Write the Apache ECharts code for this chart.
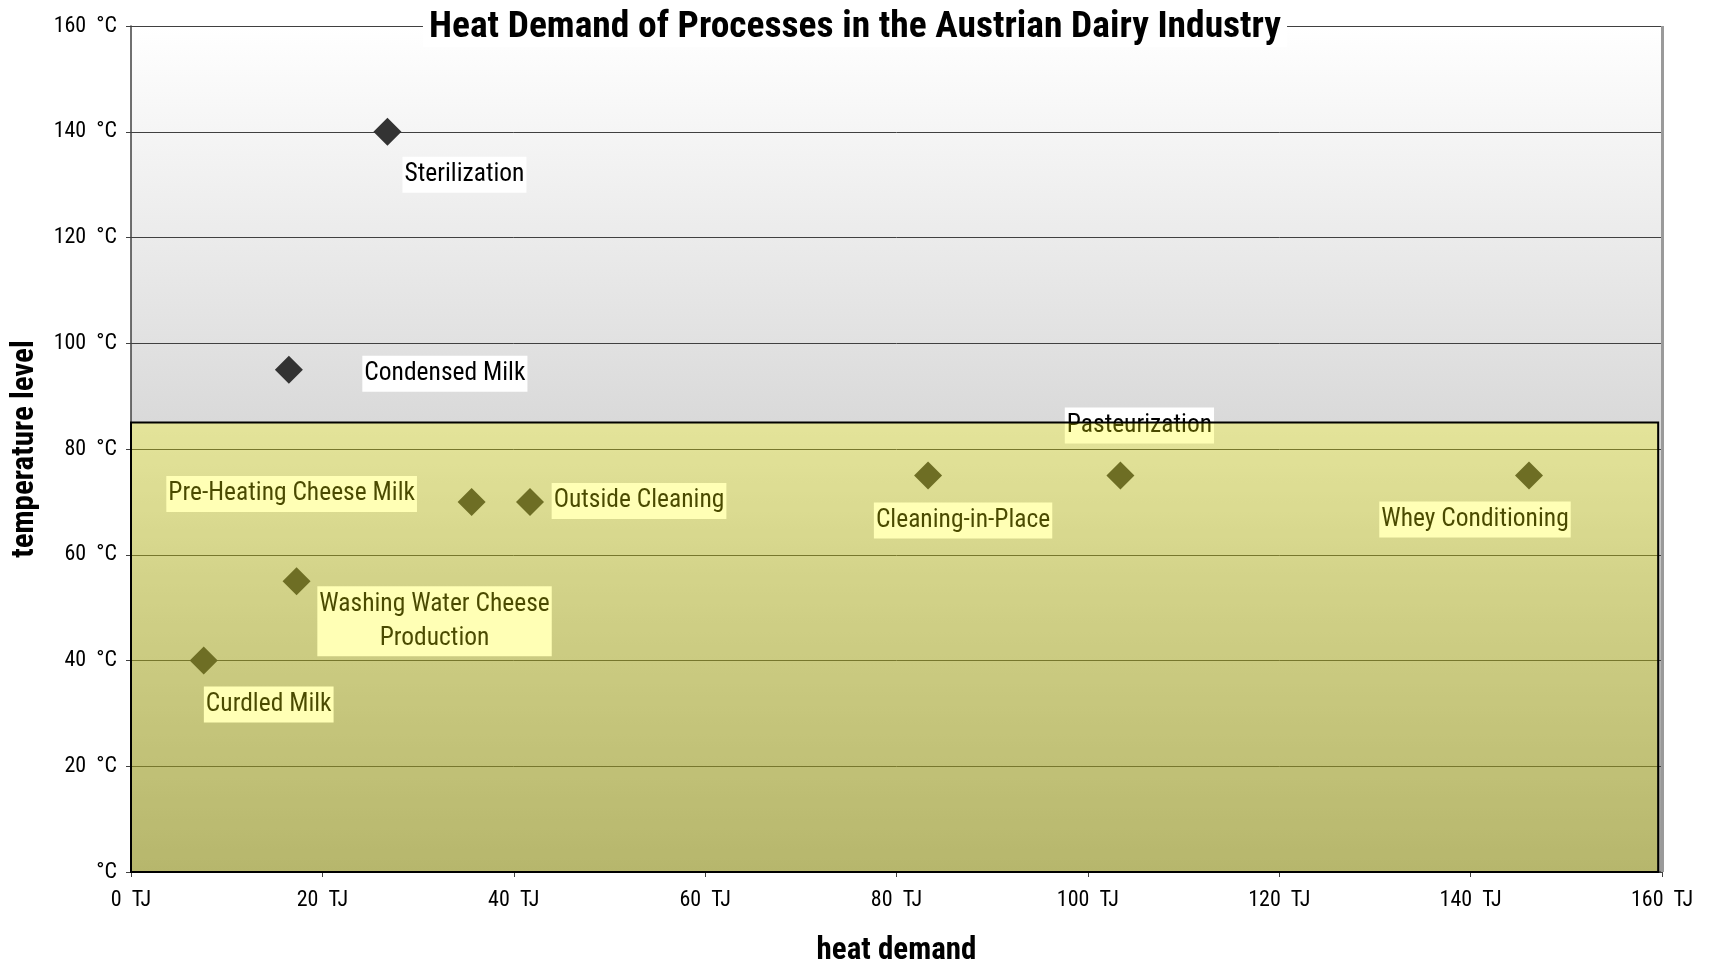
<!DOCTYPE html>
<html>
<head>
<meta charset="utf-8">
<script src="https://cdn.jsdelivr.net/npm/echarts@6/dist/echarts.min.js"></script>
<style>
html,body{margin:0;padding:0;background:#fff;}
#chart{width:1710px;height:962px;}
</style>
</head>
<body>
<div id="chart"></div>
<script>
// ---- data ----
const processNames = [
  'Sterilization',
  'Condensed Milk',
  'Pre-Heating Cheese Milk',
  'Outside Cleaning',
  'Washing Water Cheese\nProduction',
  'Curdled Milk',
  'Cleaning-in-Place',
  'Pasteurization',
  'Whey Conditioning'
];
const heatDemandTJ = [26.8, 16.5, 35.6, 41.7, 17.3, 7.6, 83.3, 103.4, 146.1];
const temperatureC = [140, 95, 70, 70, 55, 40, 75, 75, 75];
const xTicks = [0, 20, 40, 60, 80, 100, 120, 140, 160];
const yTicks = [0, 20, 40, 60, 80, 100, 120, 140, 160];
// low-temperature band
const bandMaxTJ = 159.6;
const bandMaxC = 85;

// label placement (styling only): offset of label centre from the point, px
const labelOffsets = [
  [77, 43], [156, 4], [-180, -8], [109, -1], [138, 40],
  [65, 44], [35, 45], [19, -50], [-54, 44]
];

const FONT = "'Liberation Sans Narrow', 'Arial Narrow', 'Roboto Condensed', 'Liberation Sans', sans-serif";

const points = processNames.map((n, i) => ({
  name: n,
  value: [heatDemandTJ[i], temperatureC[i]]
}));

const chart = echarts.init(document.getElementById('chart'));
chart.setOption({
  animation: false,
  title: {
    text: 'Heat Demand of Processes in the Austrian Dairy Industry',
    left: 'center',
    top: 9,
    padding: [0, 6],
    backgroundColor: '#ffffff',
    textStyle: { fontFamily: FONT, fontSize: 37.5, fontWeight: 'bold', color: '#000' }
  },
  grid: {
    left: 131, right: 48, top: 26, bottom: 90,
    outerBoundsMode: 'none',
    containLabel: false,
    show: true,
    borderWidth: 0,
    backgroundColor: {
      type: 'linear', x: 0, y: 0, x2: 0, y2: 1,
      colorStops: [
        { offset: 0, color: '#ffffff' },
        { offset: 0.375, color: '#e1e1e1' },
        { offset: 0.47, color: '#d9d9d9' },
        { offset: 0.69, color: '#bdbdbd' },
        { offset: 1, color: '#999999' }
      ]
    }
  },
  xAxis: {
    type: 'value', min: 0, max: 160, interval: 20,
    name: 'heat demand', nameLocation: 'middle', nameGap: 64,
    nameTextStyle: { fontFamily: FONT, fontSize: 31, fontWeight: 'bold', color: '#000' },
    axisLine: { show: true, lineStyle: { color: '#404040', width: 1.5 } },
    axisTick: { show: true, inside: false, length: 5, lineStyle: { color: '#404040' } },
    axisLabel: {
      margin: 17, fontFamily: FONT, fontSize: 22, color: '#000',
      formatter: v => xTicks.includes(v) ? v + '  TJ' : ''
    },
    splitLine: { show: false }
  },
  yAxis: {
    type: 'value', min: 0, max: 160, interval: 20,
    name: 'temperature level', nameLocation: 'middle', nameGap: 90,
    nameTextStyle: { fontFamily: FONT, fontSize: 31, fontWeight: 'bold', color: '#000' },
    axisLine: { show: true, lineStyle: { color: '#404040', width: 1.5 } },
    axisTick: { show: true, inside: false, length: 5, lineStyle: { color: '#404040' } },
    axisLabel: {
      margin: 14, fontFamily: FONT, fontSize: 22, color: '#000',
      formatter: v => yTicks.includes(v) ? (v === 0 ? '°C' : v + '  °C') : ''
    },
    splitLine: { show: true, lineStyle: { color: '#404040', width: 1 } }
  },
  series: [
    {
      type: 'scatter',
      z: 2,
      symbol: 'diamond',
      symbolSize: 28,
      itemStyle: { color: '#333333', opacity: 1 },
      label: {
        show: true,
        position: 'inside',
        formatter: p => p.name,
        fontFamily: FONT,
        fontSize: 25.5,
        lineHeight: 34,
        align: 'center',
        color: '#000000',
        backgroundColor: '#ffffff',
        padding: [1, 2]
      },
      labelLayout: p => ({
        dx: labelOffsets[p.dataIndex][0],
        dy: labelOffsets[p.dataIndex][1],
        hideOverlap: false
      }),
      data: points
    },
    {
      type: 'scatter',
      z: 30,
      silent: true,
      data: [],
      markArea: {
        z: 30,
        silent: true,
        itemStyle: {
          color: 'rgba(255,255,0,0.29)',
          borderColor: '#000000',
          borderWidth: 2
        },
        data: [[{ coord: [0, 0] }, { coord: [bandMaxTJ, bandMaxC] }]]
      },
      markLine: {
        z: 30,
        silent: true,
        symbol: 'none',
        label: { show: false },
        lineStyle: { color: '#9a9a9a', width: 3, type: 'solid' },
        data: [{ xAxis: 160 }]
      }
    }
  ]
});
</script>
</body>
</html>
